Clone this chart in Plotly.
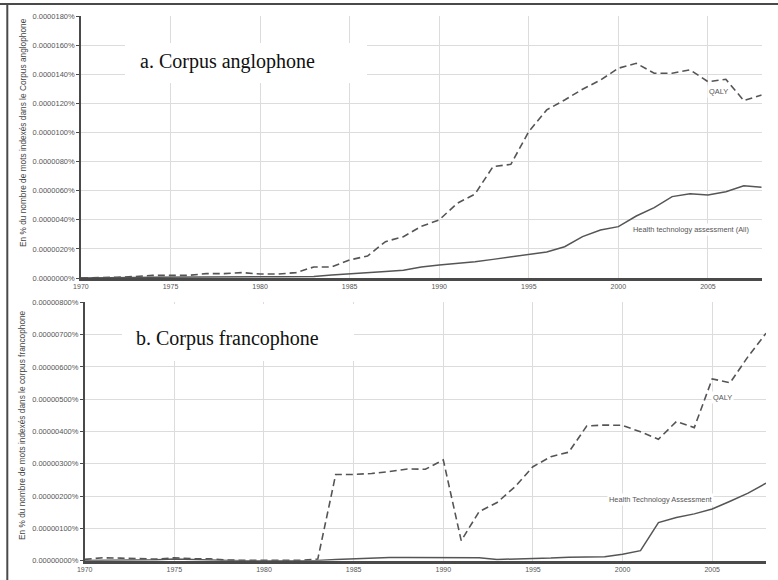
import plotly.graph_objects as go

# ---------------- data (values in millionths of a percent) ----------------
years = list(range(1970, 2009))

en_qaly = [0.0, 0.0, 0.05, 0.10, 0.18, 0.18, 0.18, 0.30, 0.30, 0.37,
           0.27, 0.27, 0.37, 0.76, 0.76, 1.24, 1.51, 2.50, 2.84, 3.55,
           3.99, 5.13, 5.77, 7.65, 7.81, 10.06, 11.55, 12.23, 12.97, 13.60,
           14.41, 14.75, 14.07, 14.07, 14.30, 13.49, 13.65, 12.19, 12.58]
en_hta = [0.0, 0.0, 0.0, 0.04, 0.06, 0.07, 0.08, 0.08, 0.08, 0.08,
          0.08, 0.08, 0.09, 0.10, 0.20, 0.30, 0.38, 0.45, 0.53, 0.75,
          0.89, 0.98, 1.12, 1.28, 1.44, 1.65, 1.79, 2.15, 2.84, 3.30,
          3.53, 4.26, 4.83, 5.59, 5.79, 5.70, 5.93, 6.34, 6.23]

fr_qaly = [0.04, 0.09, 0.08, 0.06, 0.05, 0.09, 0.06, 0.06, 0.02, 0.01,
           0.01, 0.01, 0.01, 0.05, 2.67, 2.67, 2.70, 2.76, 2.84, 2.83,
           3.12, 0.62, 1.52, 1.80, 2.29, 2.91, 3.22, 3.36, 4.17, 4.20,
           4.19, 3.99, 3.76, 4.31, 4.12, 5.63, 5.51, 6.32, 7.04]
fr_hta = [0.01, 0.01, 0.01, 0.02, 0.03, 0.05, 0.03, 0.02, 0.01, 0.0,
          0.0, 0.0, 0.0, 0.01, 0.04, 0.06, 0.10, 0.10, 0.10, 0.10,
          0.09, 0.09, 0.09, 0.04, 0.05, 0.06, 0.08, 0.11, 0.11, 0.12,
          0.20, 0.31, 1.18, 1.34, 1.45, 1.60, 1.84, 2.09, 2.40]

x_ticks = [1970, 1975, 1980, 1985, 1990, 1995, 2000, 2005]
titles = ["a. Corpus anglophone", "b. Corpus francophone"]
y_titles = ["En % du nombre de mots indexés dans le Corpus anglophone",
            "En % du nombre de mots indexés dans le corpus francophone"]
labels_top = ["QALY", "Health technology assessment (All)"]
labels_bottom = ["QALY", "Health Technology Assessment"]

SCALE = 1e-6
W, H = 778, 580


def px(x):
    return x / W


def py(y):
    return 1 - y / H


LINE = "#555555"
GRID = "#dcdcdc"
AX = "#4a4a4a"
TXT = "#555555"

fig = go.Figure()
fig.add_trace(go.Scatter(x=years, y=[v * SCALE for v in en_qaly], mode="lines",
                         line=dict(color=LINE, width=1.6, dash="7px,4px"),
                         xaxis="x", yaxis="y", showlegend=False, hoverinfo="skip"))
fig.add_trace(go.Scatter(x=years, y=[v * SCALE for v in en_hta], mode="lines",
                         line=dict(color=LINE, width=1.5),
                         xaxis="x", yaxis="y", showlegend=False, hoverinfo="skip"))
fig.add_trace(go.Scatter(x=years, y=[v * SCALE for v in fr_qaly], mode="lines",
                         line=dict(color=LINE, width=1.6, dash="7px,4px"),
                         xaxis="x2", yaxis="y2", showlegend=False, hoverinfo="skip"))
fig.add_trace(go.Scatter(x=years, y=[v * SCALE for v in fr_hta], mode="lines",
                         line=dict(color=LINE, width=1.5),
                         xaxis="x2", yaxis="y2", showlegend=False, hoverinfo="skip"))

xcommon = dict(range=[1970, 2008], tickvals=x_ticks, showgrid=True, gridcolor=GRID,
               gridwidth=1, showline=True, linecolor=AX, linewidth=2.5,
               ticks="", automargin=False,
               tickfont=dict(family="Liberation Sans Narrow, Liberation Sans, Arial",
                             size=7, color="#555"),
               zeroline=False, fixedrange=True)
ycommon = dict(showgrid=True, gridcolor=GRID, gridwidth=1, showline=True,
               linecolor=AX, linewidth=1.5, ticks="outside", ticklen=3,
               tickcolor=AX, tickwidth=1, automargin=False,
               tickfont=dict(family="Liberation Sans, Arial", size=7.5, color="#555"),
               zeroline=False, ticksuffix="%", fixedrange=True)

fig.update_layout(
    width=W, height=H,
    margin=dict(l=0, r=0, t=0, b=0, pad=0, autoexpand=False),
    paper_bgcolor="white", plot_bgcolor="white",
    xaxis=dict(domain=[px(80.9), px(761.7)], anchor="y", **xcommon),
    yaxis=dict(domain=[py(278), py(16)], anchor="x", range=[0, 18 * SCALE],
               dtick=2 * SCALE, tick0=0, tickformat=".7f", **ycommon),
    xaxis2=dict(domain=[px(84.7), px(766)], anchor="y2", **xcommon),
    yaxis2=dict(domain=[py(560.7), py(302.3)], anchor="x2", range=[0, 8 * SCALE],
                dtick=1 * SCALE, tick0=0, tickformat=".8f", **ycommon),
)

shapes = [
    # white boxes behind panel titles
    dict(type="rect", xref="paper", yref="paper", x0=px(125), x1=px(367),
         y0=py(83), y1=py(43), fillcolor="white", line=dict(width=0), layer="above"),
    dict(type="rect", xref="paper", yref="paper", x0=px(122), x1=px(354),
         y0=py(361), y1=py(304), fillcolor="white", line=dict(width=0), layer="above"),
    # image frame (top and left edges)
    dict(type="line", xref="paper", yref="paper", x0=0, x1=1, y0=py(4), y1=py(4),
         line=dict(color="#4a4a4a", width=2), layer="above"),
    dict(type="line", xref="paper", yref="paper", x0=px(7.3), x1=px(7.3), y0=0, y1=py(3),
         line=dict(color="#4a4a4a", width=2), layer="above"),
]
fig.update_layout(shapes=shapes)

serif = dict(family="Liberation Serif, Times New Roman, serif", size=20, color="#111")
small = dict(family="Liberation Sans, Arial", size=7.4, color=TXT)
annotations = [
    dict(text=titles[0], x=px(138), y=py(61), xref="paper", yref="paper",
         xanchor="left", yanchor="middle", showarrow=False, font=serif),
    dict(text=titles[1], x=px(134), y=py(338), xref="paper", yref="paper",
         xanchor="left", yanchor="middle", showarrow=False, font=serif),
    dict(text=y_titles[0], x=px(22.5), y=py(132.5), xref="paper", yref="paper",
         xanchor="center", yanchor="middle", textangle=-90, showarrow=False,
         font=dict(family="Liberation Sans, Arial", size=8.3, color="#444")),
    dict(text=y_titles[1], x=px(22), y=py(425), xref="paper", yref="paper",
         xanchor="center", yanchor="middle", textangle=-90, showarrow=False,
         font=dict(family="Liberation Sans, Arial", size=8.3, color="#444")),
    dict(text=labels_top[0], x=px(718), y=py(92), xref="paper", yref="paper",
         xanchor="center", yanchor="middle", showarrow=False, font=small,
         bgcolor="white", borderpad=1),
    dict(text=labels_top[1], x=px(691), y=py(229), xref="paper", yref="paper",
         xanchor="center", yanchor="middle", showarrow=False, font=small,
         bgcolor="white", borderpad=1),
    dict(text=labels_bottom[0], x=px(722), y=py(397), xref="paper", yref="paper",
         xanchor="center", yanchor="middle", showarrow=False, font=small,
         bgcolor="white", borderpad=1),
    dict(text=labels_bottom[1], x=px(660), y=py(499), xref="paper", yref="paper",
         xanchor="center", yanchor="middle", showarrow=False, font=small,
         bgcolor="white", borderpad=1),
]
fig.update_layout(annotations=annotations)

fig.write_html("out.html", config={"displayModeBar": False},
               post_script="document.body.style.margin='0';document.body.style.padding='0';")
